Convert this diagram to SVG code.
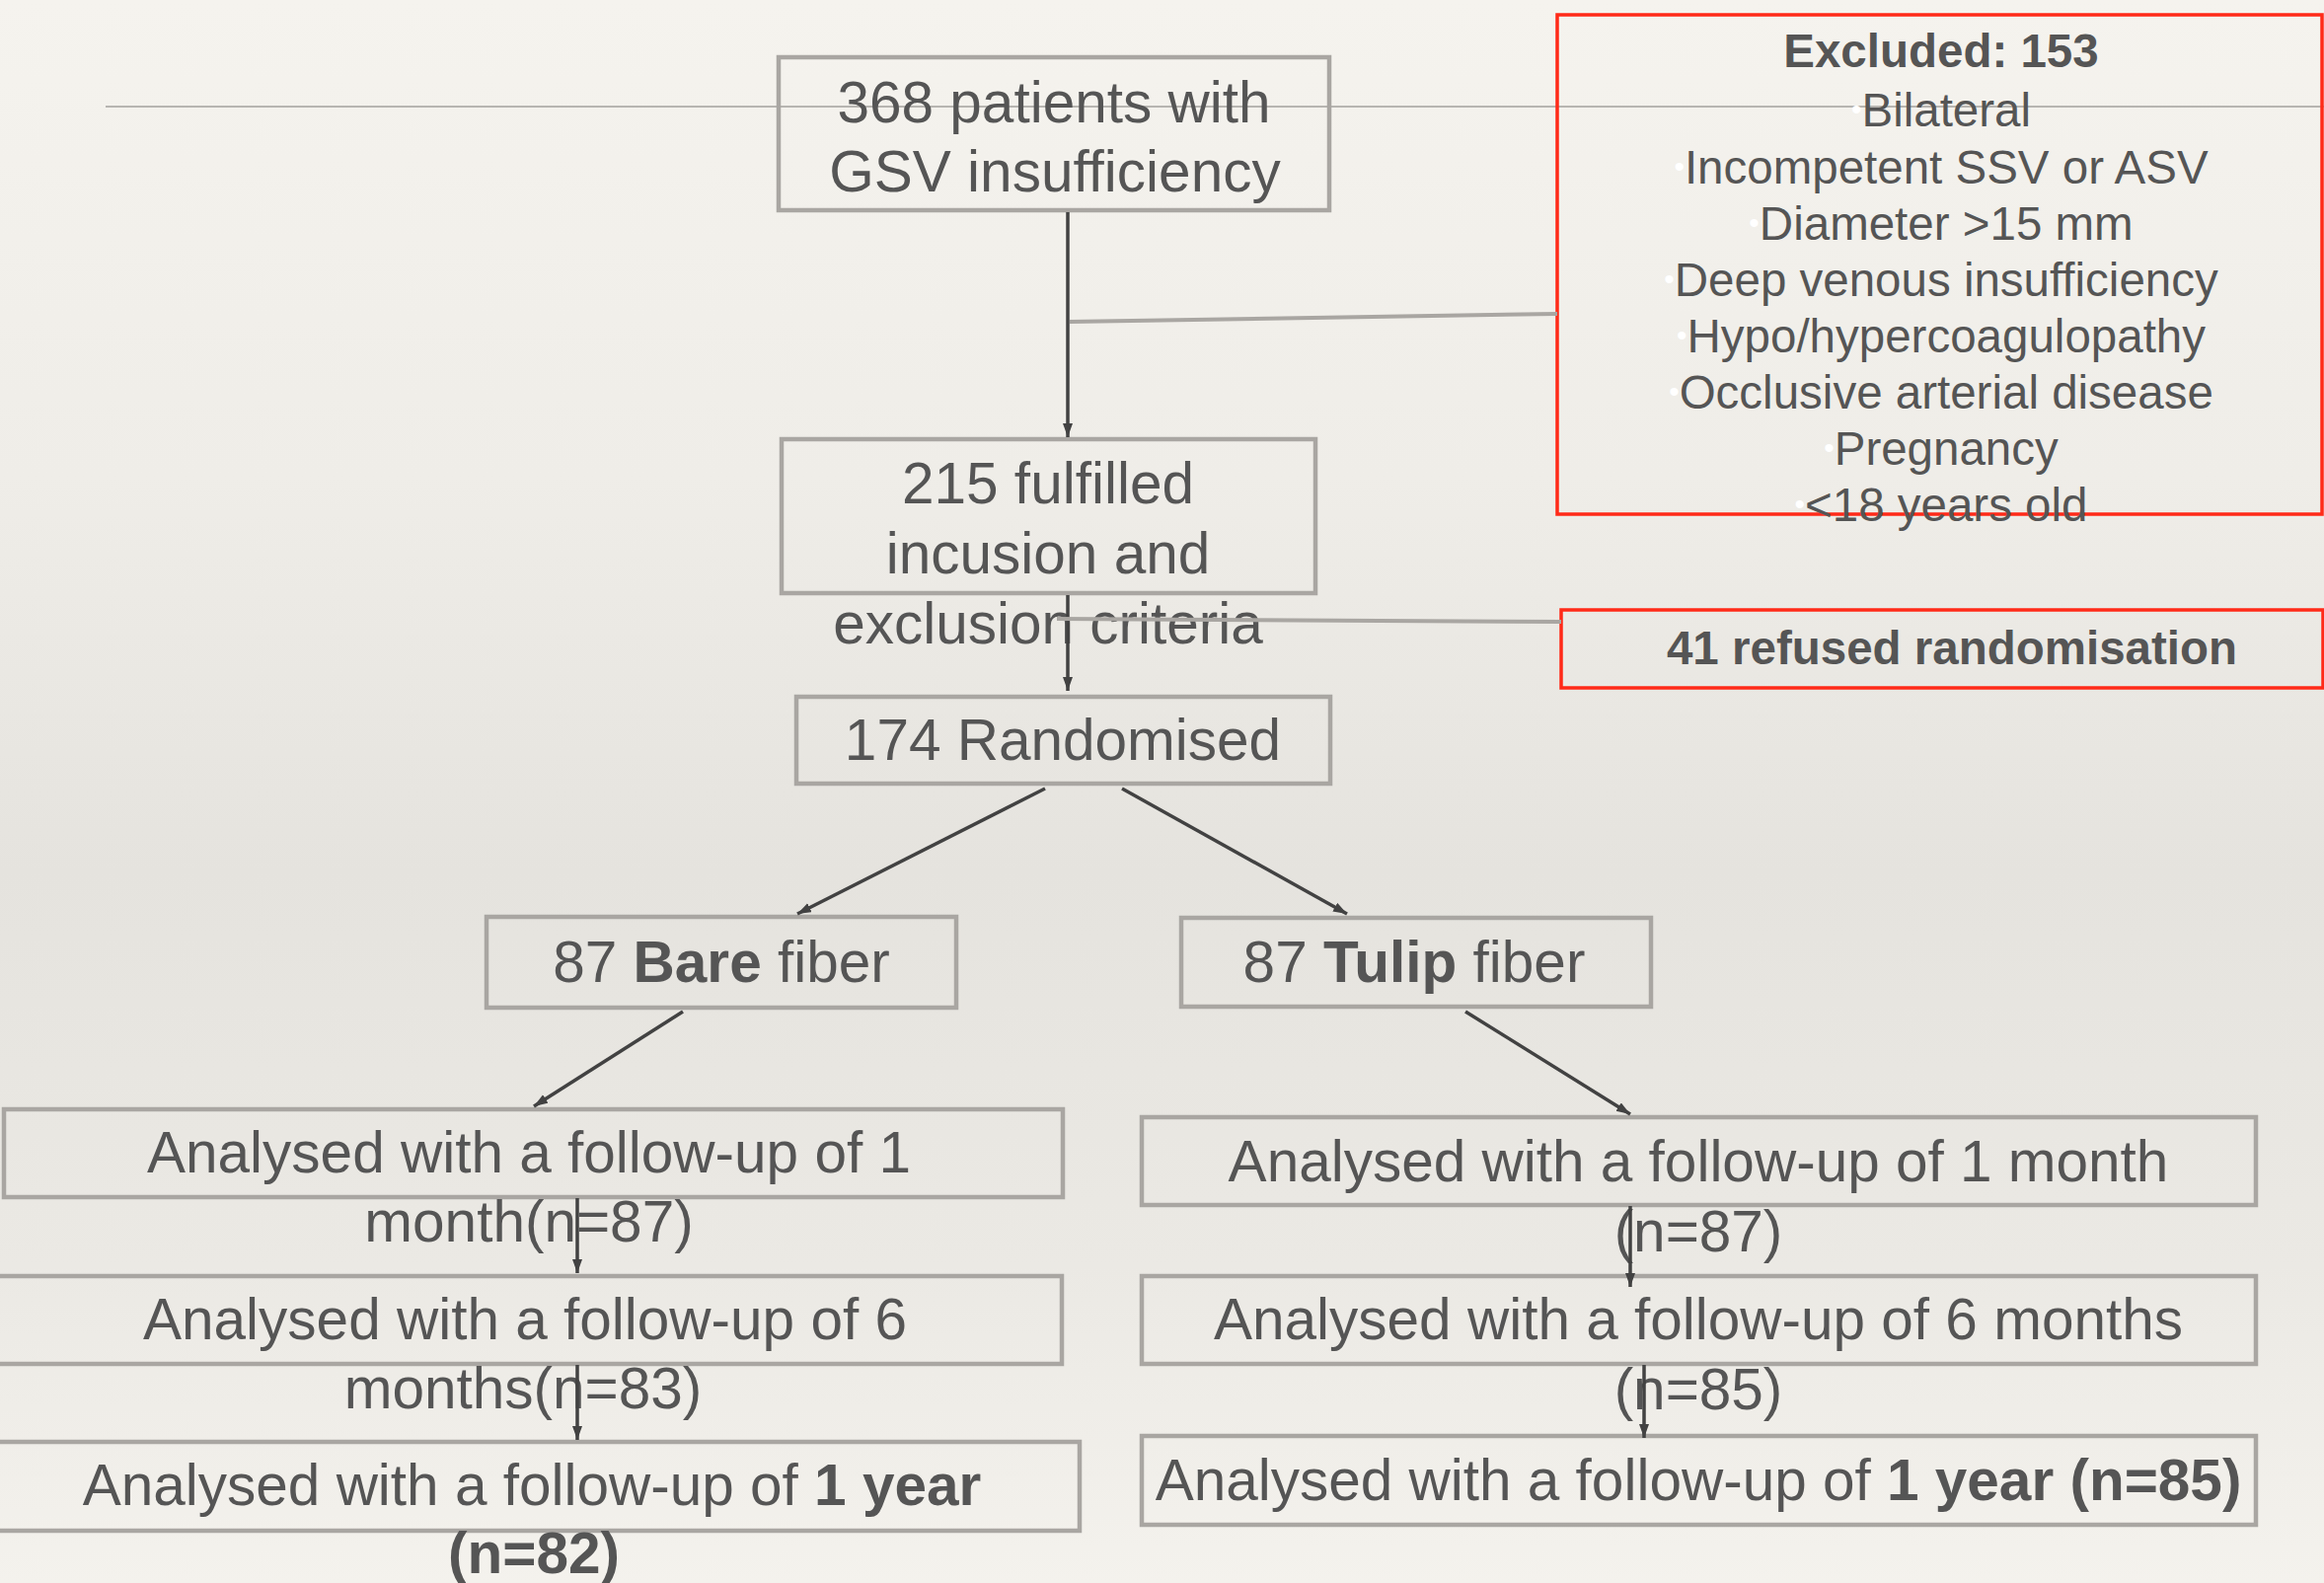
<svg xmlns="http://www.w3.org/2000/svg" width="2355" height="1604" viewBox="0 0 2355 1604">
<defs>
<linearGradient id="bg" x1="0" y1="0" x2="0" y2="1">
<stop offset="0" stop-color="#f5f3ee"/>
<stop offset="0.3" stop-color="#efede8"/>
<stop offset="0.55" stop-color="#e5e3de"/>
<stop offset="0.8" stop-color="#ebe9e4"/>
<stop offset="1" stop-color="#f4f2ed"/>
</linearGradient>
<marker id="ah" markerUnits="userSpaceOnUse" markerWidth="16" markerHeight="12" refX="14" refY="5" orient="auto">
<path d="M0,0 L14,5 L0,10 z" fill="#424242"/>
</marker>
</defs>
<style>
.box{fill:none;stroke:#a9a6a2;stroke-width:4.5}
.red{fill:none;stroke:#ff2a18;stroke-width:3.5}
.t{font-family:"Liberation Sans",Arial,sans-serif;font-size:58.5px;fill:#555555;text-anchor:middle}
.ex{font-family:"Liberation Sans",Arial,sans-serif;font-size:47.5px;fill:#555555;text-anchor:middle}
.b{font-weight:bold}
.bul{fill:#ffffff;font-size:30px}
.arr{stroke:#424242;stroke-width:3.5;fill:none;marker-end:url(#ah)}
.gl{stroke:#a9a6a2;stroke-width:4;fill:none}
</style>
<rect x="0" y="0" width="2355" height="1604" fill="url(#bg)"/>
<line x1="107" y1="108" x2="2355" y2="108" stroke="#b7b5b1" stroke-width="2.2"/>

<g id="n-patients">
<rect class="box" x="789" y="58" width="558" height="155"/>
<text class="t" x="1068" y="124">368 patients with</text>
<text class="t" x="1069" y="194">GSV insufficiency</text>
</g>

<g id="n-excluded">
<rect class="red" x="1578" y="15" width="775" height="506"/>
<text class="ex b" x="1967" y="68">Excluded: 153</text>
<text class="ex" x="1967" y="128"><tspan class="bul" dy="-7">•</tspan><tspan dy="7">Bilateral</tspan></text>
<text class="ex" x="1967" y="186"><tspan class="bul" dy="-7">•</tspan><tspan dy="7">Incompetent SSV or ASV</tspan></text>
<text class="ex" x="1967" y="243"><tspan class="bul" dy="-7">•</tspan><tspan dy="7">Diameter &gt;15 mm</tspan></text>
<text class="ex" x="1967" y="300"><tspan class="bul" dy="-7">•</tspan><tspan dy="7">Deep venous insufficiency</tspan></text>
<text class="ex" x="1967" y="357"><tspan class="bul" dy="-7">•</tspan><tspan dy="7">Hypo/hypercoagulopathy</tspan></text>
<text class="ex" x="1967" y="414"><tspan class="bul" dy="-7">•</tspan><tspan dy="7">Occlusive arterial disease</tspan></text>
<text class="ex" x="1967" y="471"><tspan class="bul" dy="-7">•</tspan><tspan dy="7">Pregnancy</tspan></text>
<text class="ex" x="1967" y="528"><tspan class="bul" dy="-7">•</tspan><tspan dy="7">&lt;18 years old</tspan></text>
</g>

<g id="n-fulfilled">
<rect class="box" x="792" y="445" width="541" height="156"/>
<text class="t" x="1062" y="510">215 fulfilled</text>
<text class="t" x="1062" y="581">incusion and</text>
<text class="t" x="1062" y="652">exclusion criteria</text>
</g>

<g id="n-refused">
<rect class="red" x="1582" y="618" width="772" height="79"/>
<text class="ex b" x="1978" y="673" style="font-size:47.5px">41 refused randomisation</text>
</g>

<g id="n-randomised">
<rect class="box" x="807" y="706" width="541" height="88"/>
<text class="t" x="1077" y="770">174 Randomised</text>
</g>

<g id="n-bare">
<rect class="box" x="493" y="929" width="476" height="92"/>
<text class="t" x="731" y="995">87 <tspan class="b">Bare</tspan> fiber</text>
</g>

<g id="n-tulip">
<rect class="box" x="1197" y="930" width="476" height="90"/>
<text class="t" x="1433" y="995">87 <tspan class="b">Tulip</tspan> fiber</text>
</g>

<g id="n-bare-1m">
<rect class="box" x="4" y="1124" width="1073" height="89"/>
<text class="t" x="536" y="1188">Analysed with a follow-up of 1</text>
<text class="t" x="536" y="1258">month(n=87)</text>
</g>

<g id="n-bare-6m">
<rect class="box" x="-4" y="1293" width="1080" height="89"/>
<text class="t" x="532" y="1357">Analysed with a follow-up of 6</text>
<text class="t" x="530" y="1427">months(n=83)</text>
</g>

<g id="n-bare-1y">
<rect class="box" x="-4" y="1461" width="1098" height="90"/>
<text class="t" x="539" y="1525">Analysed with a follow-up of <tspan class="b">1 year</tspan></text>
<text class="t b" x="541" y="1594">(n=82)</text>
</g>

<g id="n-tulip-1m">
<rect class="box" x="1157" y="1132" width="1129" height="89"/>
<text class="t" x="1721" y="1197">Analysed with a follow-up of 1 month</text>
<text class="t" x="1721" y="1268">(n=87)</text>
</g>

<g id="n-tulip-6m">
<rect class="box" x="1157" y="1293" width="1129" height="89"/>
<text class="t" x="1721" y="1357">Analysed with a follow-up of 6 months</text>
<text class="t" x="1721" y="1428">(n=85)</text>
</g>

<g id="n-tulip-1y">
<rect class="box" x="1157" y="1455" width="1129" height="90"/>
<text class="t" x="1721" y="1520">Analysed with a follow-up of <tspan class="b">1 year (n=85)</tspan></text>
</g>

<g id="connectors">
<line class="arr" x1="1082" y1="215" x2="1082" y2="443"/>
<line class="gl" x1="1084" y1="326" x2="1578" y2="318"/>
<line class="arr" x1="1082" y1="603" x2="1082" y2="700"/>
<line class="gl" x1="1071" y1="627" x2="1582" y2="630"/>
<line class="arr" x1="1059" y1="799" x2="808" y2="926"/>
<line class="arr" x1="1137" y1="799" x2="1365" y2="926"/>
<line class="arr" x1="692" y1="1025" x2="541" y2="1121"/>
<line class="arr" x1="1485" y1="1025" x2="1652" y2="1129"/>
<line class="arr" x1="585" y1="1214" x2="585" y2="1290"/>
<line class="arr" x1="585" y1="1383" x2="585" y2="1459"/>
<line class="arr" x1="1652" y1="1222" x2="1652" y2="1304"/>
<line class="arr" x1="1666" y1="1383" x2="1666" y2="1457"/>
</g>
</svg>
